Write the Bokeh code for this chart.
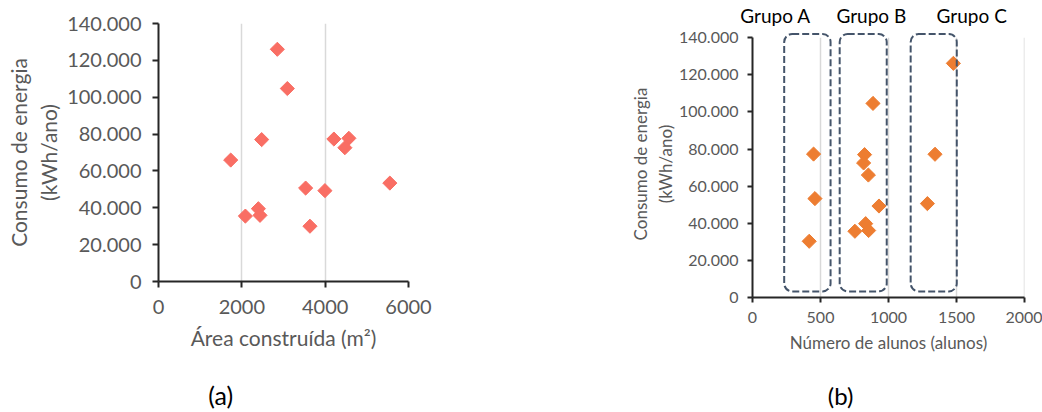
import math
from bokeh.plotting import figure
from bokeh.layouts import row, column
from bokeh.models import FixedTicker, BoxAnnotation, Range1d, LinearAxis
from bokeh.embed import file_html
from bokeh.resources import INLINE

# ---------------- data ----------------
# (a) Área construída x consumo
area_m2 = [2852, 3092, 2476, 1733, 4209, 4569, 4473, 3531, 3994, 5552, 2397, 2436, 2085, 3635]
consumo_a = [126000, 104700, 77000, 65900, 77300, 77700, 72600, 50700, 49300, 53400, 39500, 35900, 35500, 30000]

# (b) Número de alunos x consumo
alunos = [1477, 886, 449, 1342, 824, 817, 852, 459, 1286, 930, 832, 753, 854, 417]
consumo_b = [126200, 104600, 77300, 77200, 77000, 72500, 66000, 53300, 50600, 49300, 39800, 35700, 36100, 30300]

y_ticks = [0, 20000, 40000, 60000, 80000, 100000, 120000, 140000]
y_tick_labels = ["0", "20.000", "40.000", "60.000", "80.000", "100.000", "120.000", "140.000"]
xa_ticks = [0, 2000, 4000, 6000]
xa_tick_labels = ["0", "2000", "4000", "6000"]
xb_ticks = [0, 500, 1000, 1500, 2000]
xb_tick_labels = ["0", "500", "1000", "1500", "2000"]

grupos = ["Grupo A", "Grupo B", "Grupo C"]
grupo_left = [233, 641, 1163]
grupo_right = [574, 987, 1502]
grupo_bottom = 3300
grupo_top = 142000
grupo_label_x = [169, 874, 1612]

sub_labels = ["(a)", "(b)"]
sub_label_x = [1493, 648]   # in each chart's own x units

FONT = "Lato"
GRAY = "#595959"
AXIS = "#262626"


def style(p, xt, xl, font_px, label_px, tick_out, label_standoff, title_standoff,
          xlabel_standoff, xtitle_standoff):
    p.xaxis.ticker = FixedTicker(ticks=xt)
    p.yaxis.ticker = FixedTicker(ticks=y_ticks)
    p.xaxis.major_label_overrides = {t: l for t, l in zip(xt, xl)}
    p.yaxis.major_label_overrides = {t: l for t, l in zip(y_ticks, y_tick_labels)}
    for ax in (p.xaxis, p.yaxis):
        ax.axis_line_color = AXIS
        ax.axis_line_width = 2
        ax.major_tick_line_color = AXIS
        ax.major_tick_line_width = 2
        ax.major_tick_out = tick_out
        ax.major_tick_in = 0
        ax.minor_tick_line_color = None
        ax.major_label_text_font = FONT
        ax.major_label_text_font_size = font_px
        ax.major_label_text_color = GRAY
        ax.axis_label_text_font = FONT
        ax.axis_label_text_font_size = label_px
        ax.axis_label_text_color = GRAY
        ax.axis_label_text_font_style = "normal"
    p.yaxis.major_label_standoff = label_standoff
    p.xaxis.major_label_standoff = xlabel_standoff
    p.yaxis.axis_label_standoff = title_standoff
    p.xaxis.axis_label_standoff = xtitle_standoff
    p.ygrid.grid_line_color = None
    p.outline_line_color = None


def text_axis(p, side, ticks, labels, size, standoff):
    """An axis without line or ticks, used only to write labels outside the frame."""
    ax = LinearAxis(ticker=FixedTicker(ticks=ticks),
                    major_label_overrides={t: l for t, l in zip(ticks, labels)},
                    axis_line_color=None, major_tick_line_color=None, minor_tick_line_color=None,
                    major_tick_out=0, major_tick_in=0, major_label_standoff=standoff,
                    major_label_text_font=FONT, major_label_text_font_size=size,
                    major_label_text_color="black")
    p.add_layout(ax, side)


# ---------------- chart (a) ----------------
pa = figure(width=520, height=412, output_backend="svg", toolbar_location=None,
            x_range=Range1d(0, 6000), y_range=Range1d(0, 140000),
            min_border_left=158, min_border_right=112, min_border_top=23, min_border_bottom=131)
pa.xaxis.axis_label = "Área construída (m²)"
pa.yaxis.axis_label = "Consumo de energia\n(kWh/ano)"
style(pa, xa_ticks, xa_tick_labels, "20px", "21px", 6, 11, 3, 12, 8)
pa.xgrid.grid_line_color = "#d9d9d9"
pa.xgrid.grid_line_width = 1.5
pa.scatter(area_m2, consumo_a, marker="square", size=10, angle=math.pi / 4,
           fill_color="#F96E64", line_color="#F96E64")
text_axis(pa, "below", [sub_label_x[0]], [sub_labels[0]], "25px", 27)

# ---------------- chart (b) ----------------
pb = figure(width=522, height=412, output_backend="svg", toolbar_location=None,
            x_range=Range1d(0, 2000), y_range=Range1d(0, 143900),
            min_border_left=232, min_border_right=18, min_border_top=30, min_border_bottom=115)
pb.xaxis.axis_label = "Número de alunos (alunos)"
pb.yaxis.axis_label = "Consumo de energia\n(kWh/ano)"
style(pb, xb_ticks, xb_tick_labels, "16px", "17px", 5, 9, 0, 9, 6)
pb.yaxis.bounds = (y_ticks[0], y_ticks[-1])
pb.xgrid.grid_line_color = None
# vertical grid lines, stopping at the top tick like the reference
pb.segment(x0=xb_ticks[1:], y0=[y_ticks[0]] * 4, x1=xb_ticks[1:], y1=[y_ticks[-1]] * 4,
           line_color="#d9d9d9", line_width=1.5, level="underlay")
for l, r in zip(grupo_left, grupo_right):
    pb.add_layout(BoxAnnotation(left=l, right=r, bottom=grupo_bottom, top=grupo_top,
                                fill_alpha=0, line_color="#44546A", line_alpha=1, line_width=2,
                                line_dash="7 3", border_radius=8))
pb.scatter(alunos, consumo_b, marker="square", size=10, angle=math.pi / 4,
           fill_color="#ED7D31", line_color="#ED7D31")
text_axis(pb, "above", grupo_label_x, grupos, "19px", 4)
text_axis(pb, "below", [sub_label_x[1]], [sub_labels[1]], "24px", 25)

layout = row(column(pa), column(pb))
open("out.html", "w").write(file_html(layout, INLINE))
